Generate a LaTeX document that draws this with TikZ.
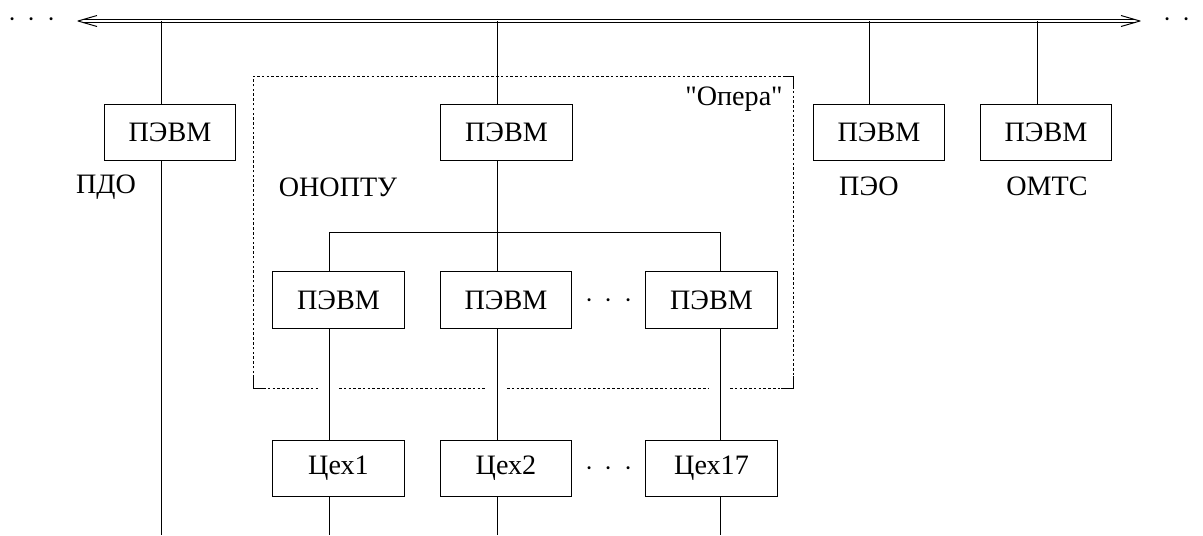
\documentclass[tikz,border=0pt]{standalone}
\usepackage{fontspec}
\setmainfont{Liberation Serif}[Ligatures=TeXOff]
\usepackage{tikz}
\usetikzlibrary{arrows.meta,positioning}
\tikzset{
  pc/.style={draw,line width=0.7pt,minimum width=3.28cm,minimum height=1.42cm,inner sep=0pt,font=\fontsize{20}{24}\selectfont},
  lbl/.style={inner sep=0pt,font=\fontsize{20}{24}\selectfont},
  ln/.style={line width=0.7pt},
  bus/.style={double,double distance=1.8pt,line width=0.7pt,shorten <=0.15cm,shorten >=0.15cm},
  fr/.style={line width=0.6pt,dash pattern=on 1.8pt off 1.6pt}
}
\newcommand{\tridots}{${\cdot}\mkern7mu{\cdot}\mkern7mu{\cdot}$}

\begin{document}
\begin{tikzpicture}[x=0.025cm,y=-0.025cm]
\useasboundingbox (0,0) rectangle (1203,535);
% shared bus
\node[lbl] (ldots) at (32,20) {\tridots};
\node[lbl] (rdots) at (1187,20) {\tridots};
\coordinate (busl) at (78,21);
\coordinate (busr) at (1140,21);
\draw[bus] (busl) -- (busr);
\draw[ln,line join=round] (busl) ++(19,-5.5) -- (busl) -- ++(19,5.5);
\draw[ln,line join=round] (busr) ++(-19,-5.5) -- (busr) -- ++(-19,5.5);
\coordinate (t1) at (161,21);
\coordinate (t2) at (497,21);
\coordinate (t3) at (869,21);
\coordinate (t4) at (1037,21);
% departments
\node[pc] (pdo) at (170,132.5) {ПЭВМ};
\node[pc] (opera) at (506.5,132.5) {ПЭВМ};
\node[pc] (peo) at (879,132.5) {ПЭВМ};
\node[pc] (omts) at (1046,132.5) {ПЭВМ};
\node[lbl] (lpdo) at (106,187) {ПДО};
\node[lbl] (lonoptu) at (338,187) {ОНОПТУ};
\node[lbl] (lpeo) at (869,186) {ПЭО};
\node[lbl] (lomts) at (1047,186) {ОМТС};
\node[lbl,anchor=east] (lopera) at (783,99) {"Опера"};
% second level
\node[pc] (a1) at (338.5,300) {ПЭВМ};
\node[pc] (a2) at (506,300) {ПЭВМ};
\node[pc] (a3) at (711.5,300) {ПЭВМ};
\node[lbl] (adots) at (609,301) {\tridots};
% workshops
\node[pc] (c1) at (338.5,468.5) {Цех1};
\node[pc] (c2) at (506,468.5) {Цех2};
\node[pc] (c3) at (711.5,468.5) {Цех17};
\node[lbl] (cdots) at (609,469) {\tridots};
\coordinate (br1) at (329,232);
\coordinate (br3) at (720,232);
\coordinate (b1) at (161,535);
% connectors
\draw[ln] (t1) -- (t1 |- pdo.north);
\draw[ln] (t1 |- pdo.south) -- (b1);
\draw[ln] (t2) -- (t2 |- opera.north);
\draw[ln] (t3) -- (t3 |- peo.north);
\draw[ln] (t4) -- (t4 |- omts.north);
\draw[ln] (t2 |- opera.south) -- (t2 |- a2.north);
\draw[ln] (br1) -- (br3);
\draw[ln] (br1) -- (br1 |- a1.north);
\draw[ln] (br3) -- (br3 |- a3.north);
\draw[ln] (br1 |- a1.south) -- (br1 |- c1.north);
\draw[ln] (t2 |- a2.south) -- (t2 |- c2.north);
\draw[ln] (br3 |- a3.south) -- (br3 |- c3.north);
\draw[ln] (br1 |- c1.south) -- (br1 |- b1);
\draw[ln] (t2 |- c2.south) -- (t2 |- b1);
\draw[ln] (br3 |- c3.south) -- (br3 |- b1);
% frame of Opera
\draw[fr] (253,378) -- (253,76) -- (783,76);
\draw[fr] (793,86) -- (793,378);
\draw[fr] (263,388) -- (318,388) (339,388) -- (486,388) (507,388) -- (709,388) (730,388) -- (783,388);
\draw[ln] (253,376) -- (253,388) -- (265,388);
\draw[ln] (781,388) -- (793,388) -- (793,376);
\draw[ln] (783,76) -- (793,76) -- (793,88);
\end{tikzpicture}
\end{document}
